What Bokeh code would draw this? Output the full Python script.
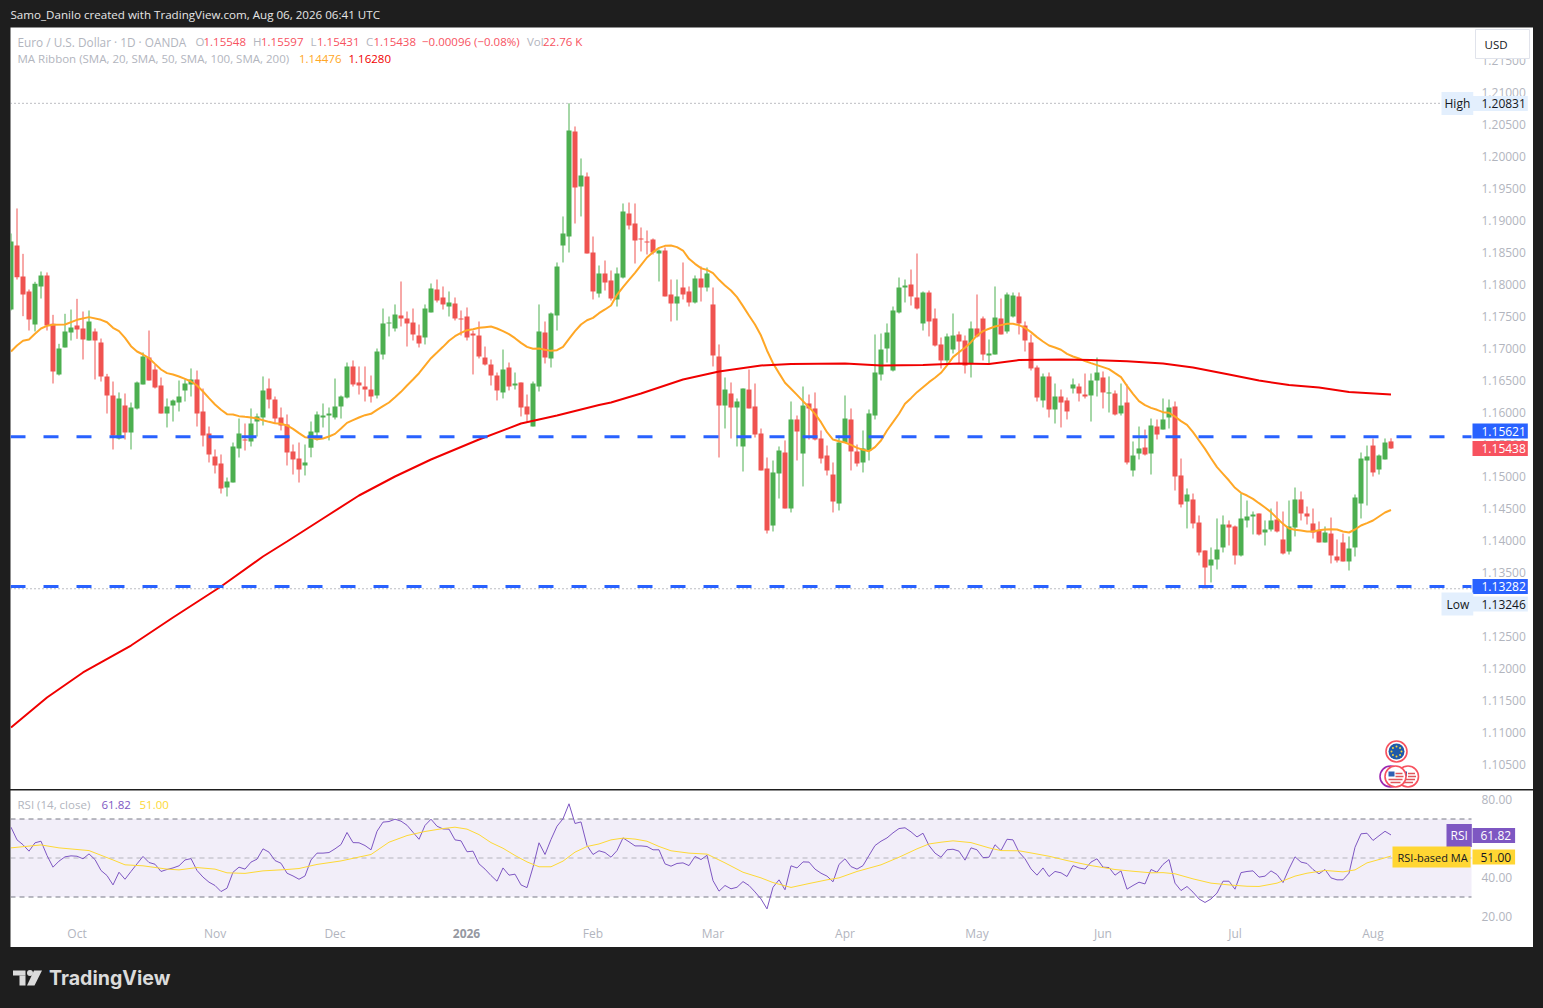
from bokeh.plotting import figure
from bokeh.models import Range1d, Label, FixedTicker, NumeralTickFormatter, BoxAnnotation
from bokeh.layouts import column
from bokeh.embed import file_html
from bokeh.resources import INLINE
import math

opens = [1.17609,1.18609,1.18125,1.17891,1.17375,1.17969,1.18141,1.17385,1.16594,1.17016,
1.1725,1.17359,1.17313,1.17125,1.17266,1.17094,1.16563,1.16266,1.15594,1.16109,
1.15688,1.16063,1.16438,1.16859,1.16672,1.16422,1.15984,1.16109,1.16156,1.16344,
1.16438,1.16516,1.16016,1.15672,1.15313,1.15203,1.14828,1.14906,1.15438,1.15578,
1.15547,1.15859,1.15922,1.16375,1.16203,1.15922,1.15813,1.15391,1.15281,1.15172,
1.1545,1.15688,1.15922,1.15953,1.15922,1.16094,1.16234,1.16719,1.16469,1.16406,
1.16359,1.16266,1.16906,1.17391,1.17313,1.17516,1.17469,1.17406,1.17203,1.17172,
1.17563,1.17922,1.17797,1.17656,1.17703,1.17469,1.175,1.17234,1.17203,1.16859,
1.1675,1.16578,1.16313,1.16703,1.16422,1.16469,1.16094,1.15781,1.16406,1.1725,
1.16844,1.17516,1.18609,1.1875,1.20391,1.19531,1.19688,1.185,1.17859,1.18172,
1.18063,1.17766,1.18109,1.19109,1.18953,1.18719,1.18672,1.18703,1.18484,1.18531,
1.17844,1.17703,1.17953,1.17891,1.17719,1.18094,1.17953,1.17688,1.16875,1.16109,
1.16297,1.16078,1.15469,1.16359,1.16094,1.15672,1.15125,1.14234,1.15047,1.15375,
1.145,1.15891,1.15359,1.16141,1.16063,1.15594,1.15328,1.15031,1.14578,1.15531,
1.15891,1.15391,1.15219,1.15406,1.15953,1.16594,1.17,1.16656,1.17563,1.17953,
1.18,1.17797,1.17391,1.17875,1.17469,1.17063,1.16813,1.16984,1.17219,1.17125,
1.16766,1.17313,1.17469,1.16891,1.16906,1.17469,1.17266,1.175,1.17813,1.17359,
1.17094,1.16703,1.16188,1.16563,1.16047,1.1625,1.16188,1.16375,1.16406,1.16281,
1.16266,1.165,1.16547,1.16297,1.16297,1.15985,1.16156,1.15094,1.15359,1.15453,
1.15359,1.15781,1.15734,1.15922,1.16094,1.15016,1.14609,1.14641,1.14281,1.13844,
1.13609,1.13703,1.13891,1.1425,1.14219,1.13766,1.14313,1.14375,1.14422,1.14125,
1.14172,1.14328,1.14016,1.13828,1.14203,1.14641,1.14422,1.14266,1.14156,1.13969,
1.14109,1.1375,1.13969,1.13672,1.13891,1.14578,1.1525,1.15484,1.15109,1.15266,1.15548]

highs = [1.18797,1.19188,1.18479,1.17922,1.18042,1.18203,1.18188,1.17526,1.17073,1.17542,
1.17609,1.17776,1.17578,1.17594,1.17313,1.17156,1.16604,1.16484,1.16313,1.16297,
1.16156,1.16484,1.16938,1.17281,1.1675,1.16547,1.16219,1.16203,1.165,1.16516,
1.16688,1.16656,1.16375,1.15781,1.15422,1.15344,1.14984,1.15531,1.15906,1.15828,
1.16063,1.15984,1.16563,1.16531,1.1625,1.16078,1.15969,1.155,1.15531,1.155,
1.15859,1.16016,1.16141,1.16078,1.16531,1.16266,1.16781,1.16813,1.16719,1.16719,
1.16578,1.17,1.17625,1.175,1.17688,1.18047,1.17578,1.17625,1.17375,1.17688,
1.18016,1.18078,1.17969,1.17891,1.17797,1.17594,1.17641,1.17281,1.17422,1.17031,
1.16828,1.16625,1.16984,1.16781,1.16625,1.16469,1.16281,1.16484,1.17688,1.17422,
1.17563,1.18344,1.19063,1.20831,1.20469,1.19969,1.1975,1.1875,1.18297,1.18375,
1.18219,1.18266,1.19266,1.19281,1.19266,1.18891,1.18844,1.18719,1.18547,1.18578,
1.18078,1.18078,1.18344,1.17969,1.18141,1.18281,1.18266,1.17953,1.17063,1.16547,
1.16469,1.16219,1.16375,1.16672,1.16453,1.1575,1.15297,1.1525,1.15469,1.15563,
1.16172,1.15953,1.16406,1.16281,1.16313,1.15719,1.15484,1.15219,1.15641,1.16266,
1.16063,1.155,1.15719,1.16047,1.17219,1.17234,1.17391,1.17656,1.18109,1.18078,
1.18234,1.18484,1.17891,1.17906,1.17625,1.17172,1.17234,1.17547,1.17266,1.17203,
1.17422,1.17844,1.175,1.17141,1.17969,1.17781,1.17875,1.17875,1.17875,1.17422,
1.17219,1.16734,1.16609,1.16625,1.16453,1.16359,1.16234,1.16531,1.16453,1.16609,
1.16609,1.16859,1.16641,1.16563,1.16344,1.16453,1.16438,1.15547,1.15781,1.15734,
1.15906,1.15891,1.16219,1.16203,1.16172,1.15281,1.14813,1.14734,1.14391,1.13844,
1.13891,1.14344,1.14391,1.14313,1.14234,1.14734,1.14625,1.14453,1.14422,1.14313,
1.145,1.14609,1.14453,1.14625,1.14828,1.14766,1.14531,1.145,1.14297,1.14219,
1.14359,1.14016,1.14109,1.14063,1.14719,1.15375,1.15484,1.15594,1.15344,1.15594,1.15597]

lows = [1.17594,1.18078,1.17505,1.17281,1.17266,1.17781,1.17281,1.16453,1.16578,1.17016,
1.17125,1.17151,1.16828,1.17125,1.16516,1.16484,1.15984,1.15422,1.15578,1.15578,
1.15422,1.16047,1.16438,1.165,1.16375,1.15984,1.15766,1.15859,1.16016,1.16172,
1.1625,1.15781,1.15469,1.15219,1.15047,1.14734,1.14688,1.14906,1.15297,1.15406,
1.15469,1.15625,1.15797,1.16063,1.15828,1.15719,1.15172,1.15031,1.14906,1.15016,
1.153,1.15563,1.15766,1.15563,1.15891,1.15906,1.16219,1.16406,1.16281,1.16172,
1.16156,1.16219,1.16828,1.17188,1.17266,1.17344,1.17031,1.17125,1.17016,1.17063,
1.17563,1.17719,1.17609,1.175,1.17438,1.17203,1.17125,1.16594,1.16844,1.16734,
1.16422,1.16188,1.16219,1.16344,1.16359,1.15938,1.15859,1.15781,1.16328,1.16766,
1.16703,1.17281,1.18344,1.185,1.18953,1.19063,1.18484,1.17766,1.17797,1.17906,
1.1775,1.17656,1.18094,1.18859,1.18328,1.18516,1.18469,1.18469,1.18047,1.17813,
1.17422,1.17438,1.17766,1.17656,1.17703,1.17734,1.17891,1.16719,1.15297,1.1575,
1.15594,1.15469,1.15078,1.16063,1.15609,1.15094,1.14109,1.14141,1.14656,1.145,
1.14438,1.1525,1.14844,1.15578,1.15563,1.15203,1.15016,1.14438,1.14469,1.15531,
1.15094,1.15156,1.15063,1.1525,1.15891,1.165,1.16781,1.16641,1.17547,1.17719,
1.17672,1.17609,1.17281,1.17188,1.17031,1.16688,1.16734,1.16922,1.16766,1.16609,
1.16547,1.17172,1.16813,1.1675,1.16906,1.17219,1.17234,1.17484,1.17219,1.16953,
1.16656,1.16172,1.16078,1.15922,1.15828,1.15766,1.15891,1.16297,1.16172,1.16219,
1.15859,1.1625,1.16063,1.16,1.15953,1.15953,1.15188,1.15,1.15266,1.15328,
1.15031,1.15578,1.15734,1.1575,1.14781,1.14516,1.14188,1.14188,1.13766,1.13246,
1.13344,1.13547,1.13813,1.13922,1.13625,1.1375,1.14203,1.14094,1.14078,1.13922,
1.14141,1.14125,1.13781,1.13781,1.14063,1.14313,1.1425,1.14031,1.13969,1.13969,
1.13641,1.13656,1.13672,1.13531,1.1375,1.14344,1.14547,1.15,1.15031,1.15266,1.15431]

closes = [1.18672,1.18115,1.17844,1.17453,1.1801,1.18141,1.17359,1.16641,1.17,1.17266,
1.17328,1.17297,1.17141,1.17422,1.17125,1.16563,1.16266,1.15641,1.16219,1.15688,
1.16078,1.16469,1.16875,1.165,1.16391,1.15984,1.16094,1.16188,1.1625,1.16453,
1.16516,1.15984,1.15641,1.15344,1.15172,1.14813,1.14922,1.15469,1.15672,1.15563,
1.15828,1.15938,1.16344,1.16203,1.15906,1.15797,1.15375,1.15266,1.15109,1.15219,
1.15703,1.15969,1.15953,1.15984,1.16094,1.1625,1.16719,1.16438,1.16422,1.16359,
1.1625,1.16953,1.17391,1.17406,1.17531,1.17469,1.17391,1.17219,1.17078,1.17625,
1.17938,1.1775,1.17688,1.17719,1.17469,1.17453,1.17172,1.17203,1.16875,1.1675,
1.16578,1.16344,1.16672,1.16406,1.16453,1.16078,1.15969,1.16453,1.17266,1.16859,
1.17547,1.18281,1.18797,1.20406,1.19516,1.19703,1.18484,1.17891,1.18172,1.18031,
1.17781,1.18172,1.19141,1.18922,1.18688,1.18703,1.18656,1.185,1.18531,1.17813,
1.17703,1.17813,1.17844,1.17719,1.18094,1.17953,1.18172,1.16891,1.16109,1.16359,
1.16078,1.16172,1.16375,1.16063,1.15656,1.15094,1.14156,1.15063,1.15406,1.145,
1.15891,1.15703,1.16109,1.16063,1.15578,1.15281,1.15094,1.14609,1.15531,1.15906,
1.15391,1.15203,1.15438,1.15985,1.16625,1.16984,1.1725,1.17594,1.17953,1.17984,
1.17813,1.17625,1.17875,1.17422,1.17047,1.16813,1.17188,1.17203,1.17109,1.16734,
1.17313,1.17188,1.16906,1.16922,1.17484,1.17219,1.17844,1.17828,1.17391,1.17125,
1.16688,1.16234,1.16563,1.16047,1.1625,1.16156,1.16016,1.16438,1.16297,1.1625,
1.165,1.16625,1.16313,1.16313,1.15969,1.16109,1.15219,1.15328,1.15438,1.15344,
1.15797,1.15656,1.15891,1.16078,1.15,1.14563,1.14719,1.14266,1.13813,1.13578,
1.13703,1.13859,1.1425,1.14203,1.13766,1.14344,1.14375,1.14406,1.14094,1.14172,
1.14313,1.14141,1.13797,1.14219,1.14641,1.14422,1.14375,1.14125,1.13969,1.14125,
1.13766,1.13688,1.13672,1.13875,1.14672,1.15281,1.15313,1.15063,1.15328,1.15531,1.15438]

ma20_days = [0,1,2,3,4,5,6,7,9,11,13] + list(range(15, 231))
ma20 = [1.16953,1.17047,1.1712,1.17141,1.17229,1.17313,1.17354,1.1737,1.17375,1.17448,1.1749,
1.17448,1.17411,1.17323,1.17271,1.17167,1.17036,1.16953,1.16906,1.16849,1.1676,
1.16672,1.16615,1.16594,1.16563,1.16526,1.16484,1.16422,1.16328,1.16224,1.16125,
1.16042,1.15974,1.15969,1.15943,1.15932,1.15922,1.15906,1.1588,1.15854,1.15833,
1.15823,1.15797,1.15745,1.15677,1.15615,
1.15604,1.15583,1.15593,1.15625,1.15666,1.1575,1.15838,1.1588,1.15922,1.15958,
1.15979,1.16041,1.16099,1.16156,1.16239,1.16323,1.16422,1.16515,1.16614,1.16734,
1.16849,1.16937,1.17026,1.1712,1.17192,1.17245,1.17286,1.17302,1.17323,1.17333,
1.17343,1.17312,1.17271,1.17224,1.17161,1.17088,1.17026,1.16995,1.17,1.16979,
1.16963,1.16974,1.17026,1.17151,1.17271,1.17375,1.17442,1.17479,1.17552,
1.1761,1.17672,1.17839,1.17959,1.18073,1.18183,1.18302,1.18422,1.18505,1.18573,
1.18604,1.1861,1.18584,1.18531,1.18401,1.18323,1.18255,1.18229,1.18177,1.18073,
1.17985,1.17906,1.17802,1.17662,1.17516,1.17375,1.17203,1.16969,1.16771,1.16615,
1.16464,1.1637,1.16276,1.16177,1.16084,1.15979,1.15849,1.15693,1.15578,1.15552,
1.15531,1.15495,1.15448,1.15417,1.15396,
1.15459,1.15563,1.15719,1.15849,1.1598,1.16136,1.16224,1.16318,1.16396,1.16474,
1.16542,1.1662,1.16735,1.16865,1.16943,1.17011,1.17099,1.17204,1.17271,1.17308,
1.17344,1.17365,1.17386,1.17386,1.17365,1.17323,1.17256,1.17178,1.1711,1.17047,
1.17016,1.1698,1.16917,1.16875,1.16844,1.16803,1.16771,1.1674,1.16709,1.16678,
1.16615,1.16553,1.16417,1.16292,1.16178,
1.16115,1.16073,1.16042,1.16005,1.15995,1.15937,1.15865,1.15807,1.15693,1.15562,
1.15432,1.15286,1.15146,1.15042,1.14937,1.14823,1.14745,1.14703,1.14651,1.14583,
1.14516,1.14443,1.14349,1.1426,1.14187,1.14167,1.14156,1.14141,1.14141,1.14161,
1.14172,1.14177,1.14172,1.14141,1.14125,1.14172,1.14234,1.14271,1.14312,1.14375,
1.14437,1.14476]

ma200_days = [0,6,12,20,27,35,42,46,52,58,64,70,78,85,91,98,100,105,112,118,125,130,139,145,152,
158,163,168,175,180,186,192,197,203,208,213,218,223,230]
ma200 = [1.11078,1.11547,1.11938,1.12359,1.12797,1.13281,1.1375,1.13984,1.14344,1.14703,
1.15,1.15266,1.15578,1.15828,1.15953,1.16117,1.16156,1.16297,1.16516,1.16641,
1.16734,1.16758,1.16766,1.16734,1.16742,1.16766,1.16758,1.1682,1.16828,1.1682,
1.16802,1.16766,1.16703,1.16594,1.165,1.1643,1.16391,1.1632,1.1628]

rsi = [65.8,59.3,56.8,53.5,57.8,58.6,51.3,45.3,48.4,50.6,
51.1,50.9,49.6,52.1,49.2,43.6,41.0,36.2,42.7,39.1,
43.1,47.0,50.8,47.7,46.8,43.1,44.1,44.9,46.0,49.0,
49.7,43.6,40.2,37.6,35.9,32.8,34.5,42.7,45.3,44.3,
47.9,49.4,54.7,53.0,48.7,47.3,42.2,40.8,39.1,40.8,
49.0,52.5,52.5,52.8,54.7,56.9,63.1,57.9,57.8,56.4,
54.2,63.7,68.4,68.7,69.9,68.9,66.8,63.2,59.6,66.7,
69.9,66.3,64.9,64.8,59.3,58.8,53.2,53.5,47.0,44.3,
41.0,38.1,44.9,41.2,41.7,36.2,34.8,45.3,57.8,51.8,
59.5,66.3,70.1,77.8,67.7,68.5,56.4,51.8,53.7,52.8,
50.4,53.8,60.3,58.3,56.2,56.2,55.9,54.2,54.2,47.0,
45.8,47.2,47.5,46.1,50.8,49.2,51.4,38.4,33.0,35.9,
34.2,35.0,37.9,35.9,32.6,29.0,23.9,35.0,38.8,33.7,
46.0,44.9,48.0,47.9,44.3,42.2,40.7,37.8,46.7,49.6,
45.6,44.3,46.1,51.3,56.4,58.6,60.3,62.9,65.1,65.5,
63.4,60.8,62.7,56.4,52.5,50.4,54.2,54.5,53.5,48.9,
55.2,54.2,50.2,50.4,56.8,53.8,59.6,59.3,53.0,49.6,
44.4,41.2,44.9,40.5,43.1,42.4,40.5,46.1,44.9,44.3,
47.9,49.6,45.3,45.1,41.2,43.4,34.0,35.9,37.6,36.7,
44.1,42.7,46.7,49.2,37.1,33.3,35.4,32.5,29.0,27.2,
29.0,32.0,38.1,38.1,34.0,42.5,43.1,43.4,40.2,40.7,
43.4,41.5,37.4,44.4,50.6,47.9,47.2,44.1,41.9,44.1,
39.8,38.8,38.8,42.2,55.5,62.4,62.7,59.0,61.4,63.7,61.82]

rsi_ma_days = [0,5,8,13,17,19,22,26,28,31,34,36,39,42,46,48,51,55,60,63,66,69,72,74,76,78,80,
82,84,86,88,90,92,94,96,98,100,102,104,106,108,110,113,116,119,122,125,127,130,133,136,138,141,145,148,151,153,155,157,160,163,165,
168,170,173,176,180,184,187,190,192,194,197,200,203,206,208,211,214,216,219,222,224,226,228,230]
rsi_ma = [55.2,56.7,55.2,53.8,49.0,46.5,46.0,44.3,43.9,45.1,44.3,42.4,42.1,43.4,44.1,44.6,46.7,48.5,51.8,58.1,61.5,63.6,65.1,65.8,64.8,62.0,57.9,
55.0,51.3,48.0,45.5,45.5,48.4,53.0,55.9,57.2,59.3,60.2,59.7,58.6,55.9,53.7,52.5,52.0,47.5,42.7,39.8,37.4,34.9,36.9,38.8,39.8,43.1,46.5,50.4,54.7,57.2,58.1,58.8,57.9,55.2,53.8,
53.7,52.6,50.9,48.7,46.1,44.1,43.2,42.4,42.5,41.9,39.3,37.1,36.2,35.5,35.4,37.1,40.7,42.2,43.6,42.9,43.9,47.5,49.2,51.0]

level_a = 1.15621
level_b = 1.13282
high_mark = 1.20831
low_mark = 1.13246
price_ticks = [1.105,1.11,1.115,1.12,1.125,1.13,1.135,1.14,1.145,1.15,1.155,1.16,1.165,1.17,1.175,1.18,1.185,1.19,1.195,1.2,1.205,1.21,1.215]
rsi_ticks = [20,40,60,80]
month_days = [11,34,54,76,97,117,139,161,182,204,227]
month_names = ["Oct","Nov","Dec","","Feb","Mar","Apr","May","Jun","Jul","Aug"]

DARK = "#1e1e1e"
GREEN = "#4caf50"
RED = "#ef5350"
BLUE = "#2962ff"
GRAY = "#b2b5be"
PURPLE = "#7e57c2"
YELLOW = "#fdd835"
FONT = "Open Sans"

def px(x): return (x - 10.5) / 6
def py(y): return 1.2 - (y - 156) / 6400
def ry(y): return 80 - (y - 799) / 1.95

PRICE_ORIGIN = (10, 27)
RSI_ORIGIN = (10, 790)

def lab(fig, origin, text, x, y, color, size=11.5, style="normal", bg=None, pad=0, align="left", border=None):
    # pad is (left, right, top, bottom); x is the left edge of the label box
    fig.add_layout(Label(x=x - origin[0], y=y - origin[1], x_units="canvas", y_units="canvas",
                         text=text, text_color=color, text_font=FONT,
                         text_font_size=f"{size}px", text_font_style=style, text_align=align,
                         text_baseline="middle", background_fill_color=bg, padding=pad,
                         border_line_color=border))

def style_axis(a, standoff):
    a.axis_line_color = None
    a.major_tick_line_color = None
    a.minor_tick_line_color = None
    a.major_tick_out = 0
    a.major_tick_in = 0
    a.minor_tick_out = 0
    a.minor_tick_in = 0
    a.major_label_text_color = GRAY
    a.major_label_text_font = FONT
    a.major_label_text_font_size = "12px"
    a.major_label_standoff = standoff

days = list(range(len(closes)))
up = [c >= o for o, c in zip(opens, closes)]
cols = [GREEN if u else RED for u in up]
top = [max(o, c) for o, c in zip(opens, closes)]
bot = [min(o, c) for o, c in zip(opens, closes)]

p = figure(width=1523, height=762, x_range=Range1d(px(10), px(1533)), y_range=Range1d(py(789), py(27)),
           output_backend="svg", toolbar_location=None, x_axis_location=None, y_axis_location="right",
           min_border_left=0, min_border_right=0, min_border_top=0, min_border_bottom=0,
           background_fill_color="white", border_fill_color="white", outline_line_color=None,
           margin=(0, 0, 0, 2))
p.grid.visible = False
ax = p.yaxis[0]
ax.ticker = FixedTicker(ticks=price_ticks)
ax.formatter = NumeralTickFormatter(format="0.00000")
style_axis(ax, -52)

p.segment(days, highs, days, lows, color=cols, line_width=1)
p.vbar(x=days, top=top, bottom=bot, width=5/6, fill_color=cols, line_color=None)
p.line(ma20_days, ma20, line_color="#ffa726", line_width=2)
p.line(ma200_days, ma200, line_color="#f00000", line_width=2)

edge = [px(10), px(1471)]
for lv in (level_a, level_b):
    p.line(edge, [lv, lv], line_color=BLUE, line_width=3, line_dash="15 18")
for lv in (high_mark, low_mark):
    p.line(edge, [lv, lv], line_color="#787b86", line_width=1, line_dash="1 3")

def flag_ring(cx, cy, ring):
    p.scatter([px(cx)], [py(cy)], size=21, marker="circle", fill_color="white", line_color=ring, line_width=1.6)

flag_ring(1390, 776, "#9c27b0")
for cx in (1407.5, 1395):
    flag_ring(cx, 776, "#f7525f")
    p.quad(left=[px(cx-7)], right=[px(cx-1)], top=[py(771)], bottom=[py(776)], fill_color="#2f5fb3", line_color=None)
    p.segment([px(cx)], [py(773)], [px(cx+7)], [py(773)], line_color="#e0565b", line_width=1.5)
    p.segment([px(cx)], [py(776)], [px(cx+8)], [py(776)], line_color="#e0565b", line_width=1.5)
    p.segment([px(cx-7)], [py(779)], [px(cx+7)], [py(779)], line_color="#e0565b", line_width=1.5)
    p.segment([px(cx-5)], [py(782)], [px(cx+5)], [py(782)], line_color="#e0565b", line_width=1.5)
flag_ring(1396, 751, "#f7525f")
p.scatter([px(1396)], [py(751)], size=16, marker="circle", fill_color="#1f5aa8", line_color=None)
a = [i * math.pi / 4 for i in range(8)]
p.scatter([px(1396 + 5 * math.cos(t)) for t in a], [py(751 + 5 * math.sin(t)) for t in a],
          size=2, marker="circle", fill_color="#f5d442", line_color=None)

O = PRICE_ORIGIN
lab(p, O, "Euro / U.S. Dollar · 1D · OANDA", 17, 41, GRAY, size=11.8)
for t, x in (("O", 195), ("H", 252.5), ("L", 310), ("C", 365.5), ("Vol", 526.5)):
    lab(p, O, t, x, 41, GRAY)
for t, x in (("1.15548", 203), ("1.15597", 260.5), ("1.15431", 316.5), ("1.15438", 373),
             ("−0.00096 (−0.08%)", 421.5), ("22.76 K", 542.5)):
    lab(p, O, t, x, 41, "#f7525f")
lab(p, O, "MA Ribbon (SMA, 20, SMA, 50, SMA, 100, SMA, 200)", 17, 58, GRAY)
lab(p, O, "1.14476", 298.5, 58, "#ffa726")
lab(p, O, "1.16280", 348, 58, "#f00000")

lab(p, O, "USD", 1475, 43.5, "#131722", size=11.5, bg="white", pad=(9, 22, 7, 7), border="#e0e3eb")

TAG_PAD = (9, 2, 3, 3)
lab(p, O, "High", 1441, 103, "#131722", size=12, bg="#e3effd", pad=(3, 3, 3, 3))
lab(p, O, "1.20831", 1472, 103, "#131722", size=12, bg="#e3effd", pad=TAG_PAD)
lab(p, O, "1.15621", 1472, 430.5, "white", size=12, bg=BLUE, pad=TAG_PAD)
lab(p, O, "1.15438", 1472, 448, "white", size=12, bg="#f7525f", pad=TAG_PAD)
lab(p, O, "1.13282", 1472, 586, "white", size=12, bg=BLUE, pad=TAG_PAD)
lab(p, O, "Low", 1441, 603.5, "#131722", size=12, bg="#e3effd", pad=(5, 4, 3, 3))
lab(p, O, "1.13246", 1472, 603.5, "#131722", size=12, bg="#e3effd", pad=TAG_PAD)

r = figure(width=1523, height=157, x_range=Range1d(px(10), px(1533)), y_range=Range1d(ry(947), ry(790)),
           output_backend="svg", toolbar_location=None, y_axis_location="right",
           min_border_left=0, min_border_right=0, min_border_top=0, min_border_bottom=0,
           background_fill_color="white", border_fill_color="white", outline_line_color=None,
           margin=(1, 0, 0, 2))
r.grid.visible = False
ay = r.yaxis[0]
ay.ticker = FixedTicker(ticks=rsi_ticks)
ay.formatter = NumeralTickFormatter(format="0.00")
style_axis(ay, -52)
ax2 = r.xaxis[0]
ax2.ticker = FixedTicker(ticks=month_days)
ax2.major_label_overrides = {d: n for d, n in zip(month_days, month_names)}
style_axis(ax2, -23)

r.add_layout(BoxAnnotation(bottom=30, top=70, right=px(1471), fill_color=PURPLE, fill_alpha=0.1, line_color=None, level="underlay"))
edge_r = [px(10), px(1471)]
r.line(edge_r, [70, 70], line_color="#787b86", line_width=1, line_dash="5 4")
r.line(edge_r, [50, 50], line_color="#787b86", line_alpha=0.5, line_width=1, line_dash="5 4")
r.line(edge_r, [30, 30], line_color="#787b86", line_width=1, line_dash="5 4")
r.line(days, rsi, line_color=PURPLE, line_width=1)
r.line(rsi_ma_days, rsi_ma, line_color=YELLOW, line_width=1)

R = RSI_ORIGIN
lab(r, R, "RSI (14, close)", 17, 804, GRAY)
lab(r, R, "61.82", 101, 804, PURPLE)
lab(r, R, "51.00", 139, 804, YELLOW)
lab(r, R, "RSI", 1446, 835, "white", size=12, bg=PURPLE, pad=(4, 4, 3, 3))
lab(r, R, "61.82", 1472, 835, "white", size=12, bg=PURPLE, pad=(8, 4, 3, 3))
lab(r, R, "RSI-based MA", 1392, 856.5, "#131722", size=11, bg="#ffd633", pad=(5, 3, 3, 3))
lab(r, R, "51.00", 1472, 856.5, "#131722", size=12, bg="#ffd633", pad=(8, 4, 3, 3))
lab(r, R, "2026", 466, 933, "#9598a1", size=12, style="bold", align="center")

def dark_fig(h, m=(0, 0, 0, 0)):
    f = figure(width=1527, height=h, x_range=Range1d(0, 1527), y_range=Range1d(h, 0),
               output_backend="svg", toolbar_location=None, x_axis_location=None, y_axis_location=None,
               min_border=0, background_fill_color=DARK, border_fill_color=DARK, outline_line_color=None,
               margin=m)
    f.grid.visible = False
    return f

head = dark_fig(19)
head.add_layout(Label(x=2, y=5.5, text="Samo_Danilo created with TradingView.com, Aug 06, 2026 06:41 UTC",
                      text_color="#e6e6e6", text_font=FONT, text_font_size="11.6px", text_baseline="middle"))

foot = dark_fig(53)
LOGO = "#dbdbdb"
foot.quad(left=[4.5], right=[17], top=[23], bottom=[28], fill_color=LOGO, line_color=None)
foot.quad(left=[11], right=[17], top=[28], bottom=[38], fill_color=LOGO, line_color=None)
foot.scatter([21.5], [25.5], size=6, marker="circle", fill_color=LOGO, line_color=None)
foot.patch([25.5, 33.5, 26, 18.5], [23, 23, 38, 38], fill_color=LOGO, line_color=None)
foot.add_layout(Label(x=40.5, y=30.5, text="TradingView", text_color=LOGO, text_font="Inter",
                      text_font_size="19.6px", text_font_style="bold", text_baseline="middle"))

page = column(head, p, r, foot, spacing=0)
html = file_html(page, INLINE, title="EUR/USD")
html = html.replace("</head>", "<style>html,body{background:#1e1e1e;}body{margin:8px !important;}</style></head>", 1)
open("out.html", "w").write(html)
